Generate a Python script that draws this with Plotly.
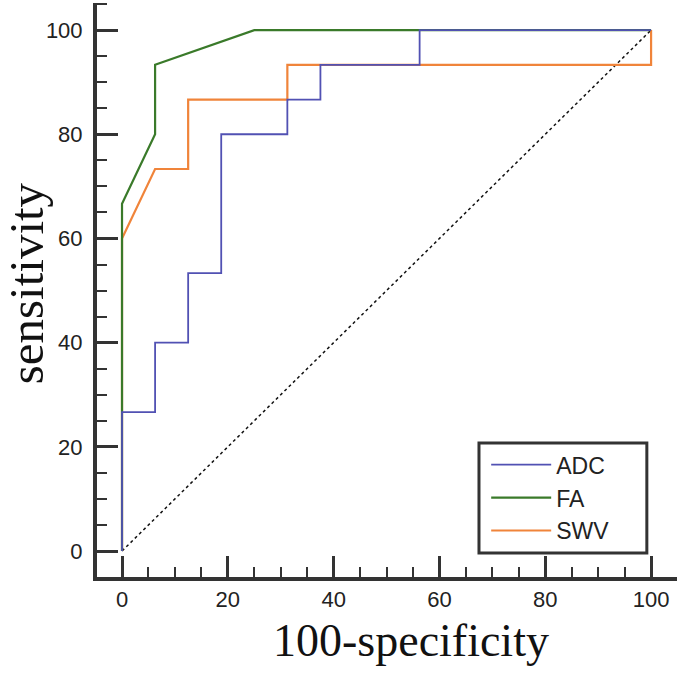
import plotly.graph_objects as go

# ROC curve data (x = 100-specificity, y = sensitivity)
adc_x = [0, 0, 6.25, 6.25, 12.5, 12.5, 18.75, 18.75, 31.25, 31.25, 37.5, 37.5, 56.25, 56.25, 100]
adc_y = [0, 26.67, 26.67, 40, 40, 53.33, 53.33, 80, 80, 86.67, 86.67, 93.33, 93.33, 100, 100]

fa_x = [0, 0, 6.25, 6.25, 25, 100]
fa_y = [0, 66.67, 80, 93.33, 100, 100]

swv_x = [0, 0, 6.25, 12.5, 12.5, 31.25, 31.25, 100, 100]
swv_y = [0, 60, 73.33, 73.33, 86.67, 86.67, 93.33, 93.33, 100]

diag_x = [0, 100]
diag_y = [0, 100]

tick_vals = [0, 20, 40, 60, 80, 100]

fig = go.Figure()
fig.add_trace(go.Scatter(x=diag_x, y=diag_y, mode="lines", showlegend=False,
                         line=dict(color="#111111", width=1.5, dash="dot")))
fig.add_trace(go.Scatter(x=swv_x, y=swv_y, mode="lines", name="SWV",
                         line=dict(color="#f0843a", width=2.2)))
fig.add_trace(go.Scatter(x=fa_x, y=fa_y, mode="lines", name="FA",
                         line=dict(color="#3a7a2a", width=2.2)))
fig.add_trace(go.Scatter(x=adc_x, y=adc_y, mode="lines", name="ADC",
                         line=dict(color="#5151b3", width=1.8)))

axis_common = dict(
    showgrid=False, zeroline=False, automargin=False,
    showline=True, linecolor="#333333", linewidth=4,
    ticks="inside", ticklen=21, tickwidth=3, tickcolor="#333333",
    tickvals=tick_vals,
    tickfont=dict(family="Liberation Sans, Arial", size=22, color="#222222"),
    minor=dict(ticks="inside", ticklen=10, tickwidth=2, tickcolor="#333333", dtick=5),
)

fig.update_layout(
    width=677, height=673,
    margin=dict(l=97, r=0, t=3, b=96, autoexpand=False),
    paper_bgcolor="white", plot_bgcolor="white",
    xaxis=dict(range=[-4.73, 104.9], **axis_common),
    yaxis=dict(range=[-4.99, 105.2], ticklabelstandoff=6, **axis_common),
    legend=dict(
        x=0.671, y=0.233, xanchor="left", yanchor="top",
        borderwidth=0, bgcolor="rgba(0,0,0,0)",
        traceorder="reversed",
        font=dict(family="Liberation Sans, Arial", size=23, color="#222222"),
        itemwidth=60,
    ),
    shapes=[
        dict(type="rect", xref="paper", yref="paper",
             x0=0.6586, x1=0.948, y0=0.0418, y1=0.2334,
             line=dict(color="#333333", width=3), fillcolor="white", layer="below"),
    ],
    annotations=[
        dict(text="100-specificity", xref="paper", yref="paper",
             x=0.541, y=-0.11, xanchor="center", yanchor="middle", showarrow=False,
             font=dict(family="Liberation Serif, Times New Roman", size=46, color="#111111")),
        dict(text="sensitivity", xref="paper", yref="paper",
             x=-0.122, y=0.512, xanchor="center", yanchor="middle", showarrow=False,
             textangle=-90,
             font=dict(family="Liberation Serif, Times New Roman", size=49, color="#111111")),
    ],
)

fig.write_html("out.html", config={"displayModeBar": False},
               post_script="document.body.style.margin='0';")
